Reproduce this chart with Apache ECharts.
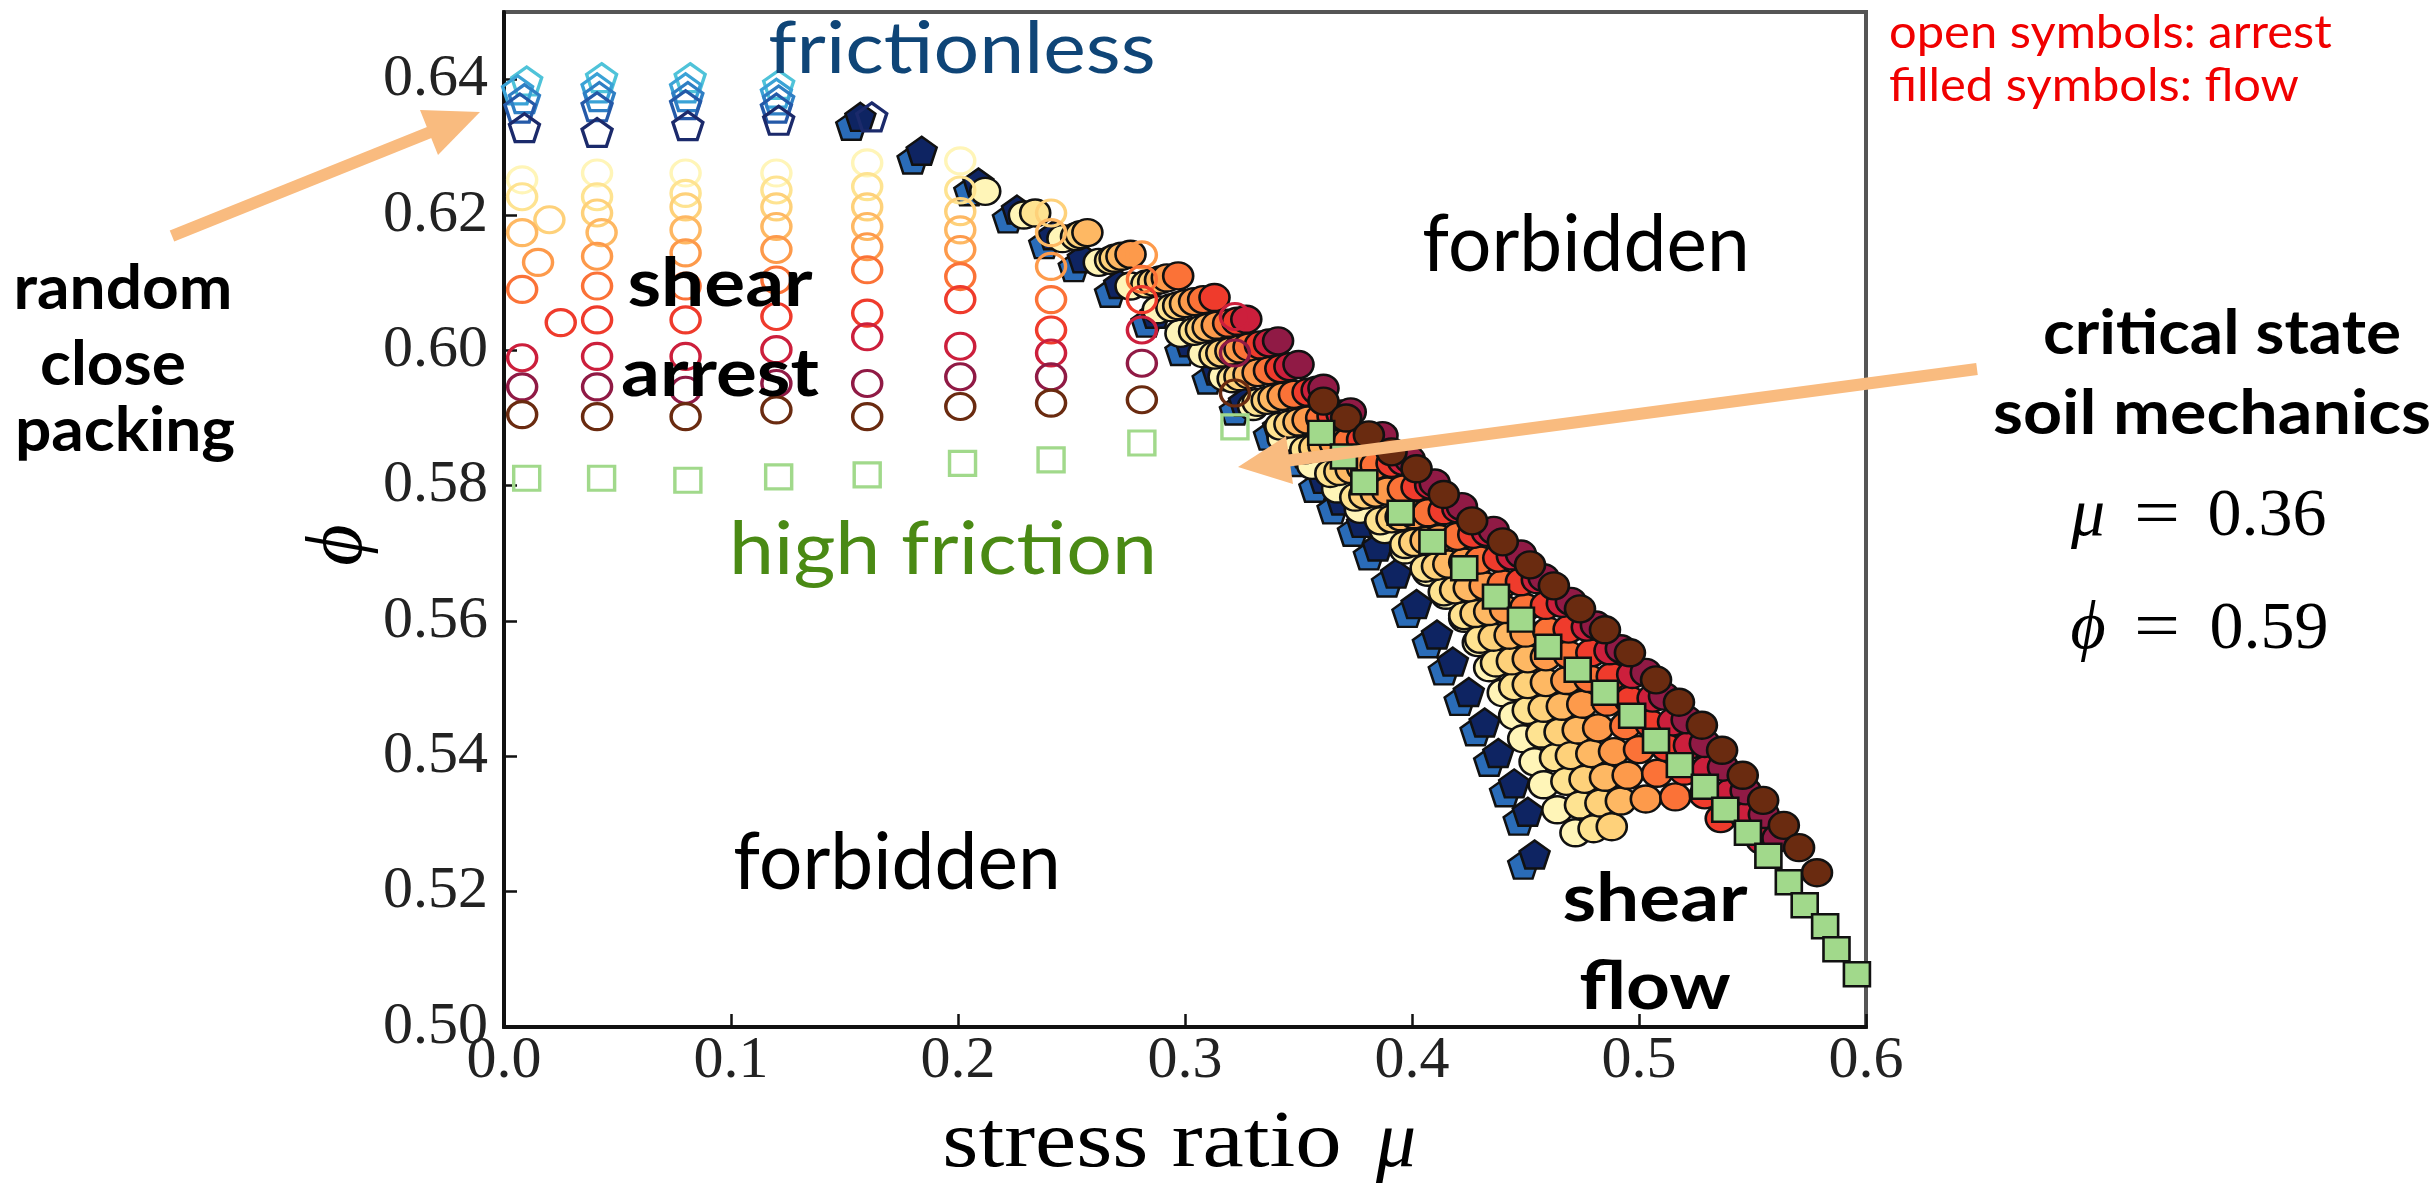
<!DOCTYPE html>
<html><head><meta charset="utf-8">
<script src="https://cdn.jsdelivr.net/npm/echarts/dist/echarts.min.js"></script>
<style>html,body{margin:0;padding:0;background:#fff}#c{width:2432px;height:1189px}</style>
</head><body><div id="c"></div>
<script>
// ---------------- DATA ----------------
const xTicks = [0.0, 0.1, 0.2, 0.3, 0.4, 0.5, 0.6];
const yTicks = [0.50, 0.52, 0.54, 0.56, 0.58, 0.60, 0.62, 0.64];

const circleColors = ['#fff5b8','#fee391','#fed17a','#feb863','#fd9a4b','#fb7237','#ef3b2c','#cc1f3c','#901a45','#6a2b10'];
const pentColors = ['#4fc3d9','#3aa2d6','#2f7fc4','#2459a8','#1b2a6b'];
const pentFlowNavyColor = '#0e2462';
const pentFlowBlueColor = '#2a6cb8';
const squareColor = '#a1d98b';

// filled symbols : flow
const flowPentBlue = [[0.153,0.6332],[0.180,0.6282],[0.205,0.6235],[0.222,0.6195],[0.238,0.6157],[0.251,0.6123],[0.267,0.6085],[0.283,0.6041],[0.298,0.5999],[0.310,0.5957],[0.322,0.5911],[0.337,0.5874],[0.349,0.5835],[0.357,0.5797],[0.365,0.5765],[0.374,0.5732],[0.381,0.5697],[0.389,0.5657],[0.398,0.5612],[0.407,0.5567],[0.414,0.5527],[0.421,0.5482],[0.428,0.5437],[0.434,0.5392],[0.441,0.5347],[0.447,0.5305],[0.449,0.5240]];
const flowPentNavy = [[0.157,0.6345],[0.184,0.6295],[0.209,0.6248],[0.226,0.6208],[0.242,0.6170],[0.255,0.6136],[0.271,0.6098],[0.287,0.6054],[0.302,0.6012],[0.314,0.5970],[0.326,0.5924],[0.341,0.5887],[0.353,0.5848],[0.361,0.5810],[0.369,0.5778],[0.378,0.5745],[0.385,0.5710],[0.393,0.5670],[0.402,0.5625],[0.411,0.5580],[0.418,0.5540],[0.425,0.5495],[0.432,0.5450],[0.438,0.5405],[0.445,0.5360],[0.451,0.5318],[0.454,0.5255]];

const flowC1 = [[0.212,0.6235],[0.229,0.6200],[0.246,0.6165],[0.262,0.6130],[0.276,0.6095],[0.288,0.6060],[0.298,0.6025],[0.308,0.5995],[0.317,0.5961],[0.330,0.5917],[0.343,0.5870],[0.356,0.5830],[0.367,0.5795],[0.377,0.5765],[0.388,0.5735],[0.397,0.5705],[0.407,0.5672],[0.415,0.5638],[0.423,0.5604],[0.429,0.5568],[0.434,0.5531],[0.440,0.5494],[0.445,0.5460],[0.449,0.5426],[0.454,0.5392],[0.458,0.5358],[0.464,0.5321],[0.472,0.5287]];
const flowC2 = [[0.234,0.6203],[0.252,0.6168],[0.267,0.6133],[0.283,0.6098],[0.294,0.6063],[0.304,0.6028],[0.313,0.5993],[0.321,0.5958],[0.332,0.5923],[0.342,0.5888],[0.353,0.5853],[0.364,0.5818],[0.375,0.5783],[0.386,0.5748],[0.397,0.5713],[0.406,0.5678],[0.414,0.5643],[0.423,0.5608],[0.430,0.5573],[0.437,0.5538],[0.445,0.5503],[0.451,0.5468],[0.457,0.5433],[0.463,0.5398],[0.468,0.5363],[0.474,0.5328],[0.480,0.5293]];
const flowC3 = [[0.254,0.6171],[0.269,0.6136],[0.286,0.6101],[0.297,0.6066],[0.307,0.6031],[0.316,0.5996],[0.324,0.5961],[0.336,0.5926],[0.346,0.5891],[0.357,0.5856],[0.368,0.5821],[0.379,0.5786],[0.391,0.5751],[0.401,0.5716],[0.411,0.5681],[0.419,0.5646],[0.428,0.5611],[0.436,0.5576],[0.444,0.5541],[0.451,0.5506],[0.458,0.5471],[0.465,0.5436],[0.470,0.5401],[0.476,0.5366],[0.483,0.5331],[0.488,0.5296]];
const flowC4 = [[0.257,0.6174],[0.272,0.6139],[0.289,0.6104],[0.300,0.6069],[0.310,0.6034],[0.320,0.5999],[0.328,0.5964],[0.339,0.5929],[0.350,0.5894],[0.361,0.5859],[0.373,0.5824],[0.384,0.5789],[0.395,0.5754],[0.406,0.5719],[0.416,0.5684],[0.425,0.5649],[0.434,0.5614],[0.443,0.5579],[0.451,0.5544],[0.459,0.5509],[0.466,0.5474],[0.473,0.5439],[0.479,0.5404],[0.485,0.5369],[0.492,0.5334]];
const flowC5 = [[0.276,0.6142],[0.292,0.6107],[0.304,0.6072],[0.314,0.6037],[0.324,0.6002],[0.332,0.5967],[0.343,0.5932],[0.354,0.5897],[0.366,0.5862],[0.378,0.5827],[0.389,0.5792],[0.401,0.5757],[0.412,0.5722],[0.423,0.5687],[0.432,0.5652],[0.441,0.5617],[0.450,0.5582],[0.459,0.5547],[0.468,0.5512],[0.475,0.5477],[0.482,0.5442],[0.489,0.5407],[0.495,0.5372],[0.503,0.5337]];
const flowC6 = [[0.297,0.6110],[0.308,0.6075],[0.319,0.6040],[0.328,0.6005],[0.337,0.5970],[0.348,0.5935],[0.360,0.5900],[0.372,0.5865],[0.384,0.5830],[0.396,0.5795],[0.407,0.5760],[0.420,0.5725],[0.430,0.5690],[0.440,0.5655],[0.450,0.5620],[0.460,0.5585],[0.469,0.5550],[0.478,0.5515],[0.486,0.5480],[0.494,0.5445],[0.500,0.5410],[0.508,0.5375],[0.516,0.5340]];
const flowC7 = [[0.313,0.6078],[0.323,0.6043],[0.333,0.6008],[0.342,0.5973],[0.354,0.5938],[0.365,0.5903],[0.378,0.5868],[0.391,0.5833],[0.402,0.5798],[0.414,0.5763],[0.427,0.5728],[0.438,0.5693],[0.448,0.5658],[0.459,0.5623],[0.469,0.5588],[0.479,0.5553],[0.488,0.5518],[0.496,0.5483],[0.505,0.5448],[0.512,0.5413],[0.520,0.5378],[0.529,0.5343],[0.536,0.5308]];
const flowC8 = [[0.327,0.6046],[0.337,0.6011],[0.346,0.5976],[0.358,0.5941],[0.369,0.5906],[0.383,0.5871],[0.396,0.5836],[0.408,0.5801],[0.420,0.5766],[0.433,0.5731],[0.444,0.5696],[0.455,0.5661],[0.466,0.5626],[0.477,0.5591],[0.487,0.5556],[0.497,0.5521],[0.506,0.5486],[0.515,0.5451],[0.522,0.5416],[0.530,0.5381],[0.540,0.5346],[0.547,0.5311],[0.554,0.5276]];
const flowC9 = [[0.341,0.6014],[0.350,0.5979],[0.361,0.5944],[0.373,0.5909],[0.387,0.5874],[0.399,0.5839],[0.410,0.5804],[0.422,0.5769],[0.436,0.5734],[0.448,0.5699],[0.458,0.5664],[0.470,0.5629],[0.481,0.5594],[0.492,0.5559],[0.503,0.5524],[0.511,0.5489],[0.521,0.5454],[0.529,0.5419],[0.537,0.5384],[0.547,0.5349],[0.555,0.5314],[0.561,0.5279]];
const flowC10 = [[0.361,0.5925],[0.371,0.5900],[0.381,0.5875],[0.391,0.5850],[0.402,0.5825],[0.414,0.5787],[0.4265,0.5748],[0.440,0.5717],[0.452,0.5683],[0.4625,0.5652],[0.474,0.5618],[0.485,0.5587],[0.496,0.5553],[0.5075,0.5513],[0.5176,0.5480],[0.5277,0.5446],[0.5366,0.5409],[0.5457,0.5372],[0.5547,0.5335],[0.5638,0.5298],[0.5705,0.5265],[0.5784,0.5228]];
const flowSquare = [[0.360,0.5878],[0.370,0.5843],[0.379,0.5805],[0.395,0.5760],[0.409,0.5717],[0.423,0.5678],[0.437,0.5636],[0.448,0.5602],[0.460,0.5562],[0.473,0.5528],[0.485,0.5494],[0.497,0.5460],[0.5075,0.5423],[0.518,0.5387],[0.529,0.5355],[0.538,0.5321],[0.548,0.5287],[0.557,0.5253],[0.566,0.5214],[0.573,0.5180],[0.582,0.5149],[0.587,0.5115],[0.596,0.5078]];

// open symbols : arrest
const arrestC1 = [[0.008,0.6252],[0.041,0.6262],[0.080,0.6262],[0.120,0.6262],[0.160,0.6277],[0.201,0.6280]];
const arrestC2 = [[0.008,0.6227],[0.041,0.6227],[0.080,0.6232],[0.120,0.6237],[0.160,0.6242],[0.201,0.6237]];
const arrestC3 = [[0.020,0.6193],[0.041,0.6203],[0.080,0.6212],[0.120,0.6212],[0.160,0.6212],[0.201,0.6205],[0.241,0.6203]];
const arrestC4 = [[0.008,0.6174],[0.043,0.6174],[0.080,0.6178],[0.120,0.6183],[0.160,0.6183],[0.201,0.6178],[0.241,0.6174]];
const arrestC5 = [[0.015,0.6130],[0.041,0.6139],[0.080,0.6144],[0.120,0.6149],[0.160,0.6153],[0.201,0.6149],[0.241,0.6124],[0.281,0.6141]];
const arrestC6 = [[0.008,0.6090],[0.041,0.6095],[0.080,0.6095],[0.120,0.6104],[0.160,0.6119],[0.201,0.6109],[0.241,0.6075],[0.281,0.6105]];
const arrestC7 = [[0.025,0.6041],[0.041,0.6045],[0.080,0.6045],[0.120,0.6050],[0.160,0.6055],[0.201,0.6075],[0.241,0.6030],[0.281,0.6075]];
const arrestC8 = [[0.008,0.5989],[0.041,0.5991],[0.080,0.5991],[0.120,0.6001],[0.160,0.6020],[0.201,0.6006],[0.241,0.5996],[0.281,0.6030],[0.322,0.6050]];
const arrestC9 = [[0.008,0.5946],[0.041,0.5946],[0.080,0.5941],[0.120,0.5951],[0.160,0.5951],[0.201,0.5961],[0.241,0.5961],[0.281,0.5981],[0.322,0.5996]];
const arrestC10 = [[0.008,0.5905],[0.041,0.5902],[0.080,0.5902],[0.120,0.5912],[0.160,0.5902],[0.201,0.5917],[0.241,0.5922],[0.281,0.5927],[0.322,0.5937]];
const arrestSquare = [[0.010,0.5811],[0.043,0.5811],[0.081,0.5808],[0.121,0.5813],[0.160,0.5816],[0.202,0.5833],[0.241,0.5838],[0.281,0.5863],[0.322,0.5887]];
const arrestP1 = [[0.010,0.6398],[0.043,0.6403],[0.082,0.6403],[0.121,0.6393]];
const arrestP2 = [[0.006,0.6385],[0.041,0.6388],[0.080,0.6388],[0.120,0.6380]];
const arrestP3 = [[0.009,0.6372],[0.042,0.6375],[0.081,0.6375],[0.121,0.6370]];
const arrestP4 = [[0.007,0.6358],[0.041,0.6360],[0.080,0.6363],[0.120,0.6358]];
const arrestP5 = [[0.009,0.6329],[0.041,0.6322],[0.081,0.6332],[0.121,0.6340],[0.162,0.6345]];

// ---------------- CHART ----------------
const PENT = 'path://M0,-1L0.951,-0.309L0.588,0.809L-0.588,0.809L-0.951,-0.309Z';
const CIRC = [30, 27], OCIRC = [29, 26], SQ = [26, 24], PSZ = [30, 28];

function filled(data, symbol, size, color) {
  return { type: 'scatter', data, symbol, symbolSize: size, silent: true, animation: false,
    emphasis: { disabled: true },
    itemStyle: { color, borderColor: '#111', borderWidth: 2.5, opacity: 1 } };
}
function hollow(data, symbol, size, color) {
  return { type: 'scatter', data, symbol, symbolSize: size, silent: true, animation: false,
    emphasis: { disabled: true },
    itemStyle: { color: 'rgba(255,255,255,0)', borderColor: color, borderWidth: 3.3, opacity: 1 } };
}

const flows = [flowC1, flowC2, flowC3, flowC4, flowC5, flowC6, flowC7, flowC8, flowC9, flowC10];
const arrests = [arrestC1, arrestC2, arrestC3, arrestC4, arrestC5, arrestC6, arrestC7, arrestC8, arrestC9, arrestC10];
const arrestPents = [arrestP1, arrestP2, arrestP3, arrestP4, arrestP5];

const series = [];
series.push(filled(flowPentBlue, PENT, PSZ, pentFlowBlueColor));
series.push(filled(flowPentNavy, PENT, PSZ, pentFlowNavyColor));
flows.forEach((d, i) => series.push(filled(d, 'circle', CIRC, circleColors[i])));
series.push(filled(flowSquare, 'rect', SQ, squareColor));
series.push(hollow(arrestSquare, 'rect', SQ, squareColor));
arrests.forEach((d, i) => series.push(hollow(d, 'circle', OCIRC, circleColors[i])));
arrestPents.forEach((d, i) => series.push(hollow(d, PENT, PSZ, pentColors[i])));

function txt(text, x, y, font, fill, align, sx, rot) {
  return { type: 'text', x, y, scaleX: sx || 1, scaleY: 1, rotation: rot || 0, z: 100,
    style: { text, font, fill, align: align || 'center', verticalAlign: 'middle',
             textAlign: align || 'center', textVerticalAlign: 'middle' } };
}
const ARROW = '#f9bb7f';
const SERIF = '"Liberation Serif","DejaVu Serif",serif';
const graphic = [
  { type: 'polyline', z: 90, shape: { points: [[172, 236], [433, 131]] }, style: { stroke: ARROW, lineWidth: 12, fill: null } },
  { type: 'polygon', z: 90, shape: { points: [[480, 112], [438, 155], [420, 110]] }, style: { fill: ARROW } },
  { type: 'polyline', z: 90, shape: { points: [[1977, 369], [1285, 461]] }, style: { stroke: ARROW, lineWidth: 12, fill: null } },
  { type: 'polygon', z: 90, shape: { points: [[1238, 467], [1293, 484], [1286, 436]] }, style: { fill: ARROW } },
  txt('frictionless', 962, 50, '72px Lato', '#0f4577', 'center', 1.12),
  txt('forbidden', 1586, 246, '79px Lato', '#000', 'center', 0.97),
  txt('forbidden', 897, 864, '79px Lato', '#000', 'center', 0.97),
  txt('high friction', 943, 550, '74px Lato', '#4a8a14', 'center', 1.09),
  txt('shear', 720, 285, 'bold 66px Lato', '#000', 'center', 1.16),
  txt('arrest', 720, 375, 'bold 66px Lato', '#000', 'center', 1.16),
  txt('shear', 1655, 900, 'bold 66px Lato', '#000', 'center', 1.16),
  txt('flow', 1655, 988, 'bold 66px Lato', '#000', 'center', 1.16),
  txt('random', 123, 289, 'bold 61px Lato', '#000', 'center', 1.05),
  txt('close', 113, 365, 'bold 61px Lato', '#000', 'center', 1.05),
  txt('packing', 125, 431, 'bold 61px Lato', '#000', 'center', 1.05),
  txt('critical state', 2222, 334, 'bold 62px Lato', '#000', 'center', 1.06),
  txt('soil mechanics', 2212, 414, 'bold 62px Lato', '#000', 'center', 1.1),
  txt('open symbols: arrest', 1889, 33, '47px Lato', '#f00000', 'left', 1.04),
  txt('filled symbols: flow', 1889, 86, '47px Lato', '#f00000', 'left', 1.04),
  txt('\u03bc', 2088, 517, 'italic 68px ' + SERIF, '#000', 'center', 1),
  txt('=', 2157, 517, '68px ' + SERIF, '#000', 'center', 1.2),
  txt('0.36', 2267, 517, '68px ' + SERIF, '#000', 'center', 1),
  txt('\u03d5', 2088, 630, 'italic 68px ' + SERIF, '#000', 'center', 1),
  txt('=', 2157, 630, '68px ' + SERIF, '#000', 'center', 1.2),
  txt('0.59', 2269, 630, '68px ' + SERIF, '#000', 'center', 1),
  txt('stress ratio', 1142, 1145, '80px ' + SERIF, '#000', 'center', 1.16),
  txt('\u03bc', 1396, 1145, 'italic 80px ' + SERIF, '#000', 'center', 1),
  txt('\u03d5', 340, 545, 'italic 80px ' + SERIF, '#000', 'center', 1, Math.PI / 2)
];

const chart = echarts.init(document.getElementById('c'), null, { renderer: 'canvas' });
chart.setOption({
  animation: false,
  backgroundColor: '#fff',
  grid: { left: 504, right: 566, top: 12, bottom: 162, show: true, borderColor: '#555', borderWidth: 4,
          containLabel: false, outerBoundsMode: 'none' },
  xAxis: {
    type: 'value', min: xTicks[0], max: xTicks[xTicks.length - 1], interval: 0.1,
    axisLine: { show: true, onZero: false, lineStyle: { color: '#111', width: 4 } },
    axisTick: { show: true, inside: true, length: 13, lineStyle: { color: '#111', width: 2.5 } },
    splitLine: { show: false },
    axisLabel: { show: true, margin: 4, color: '#222', fontSize: 60, fontFamily: SERIF,
                 formatter: v => v.toFixed(1) }
  },
  yAxis: {
    type: 'value', min: yTicks[0], max: 0.65, interval: 0.02,
    axisLine: { show: true, onZero: false, lineStyle: { color: '#111', width: 4 } },
    axisTick: { show: true, inside: true, length: 13, lineStyle: { color: '#111', width: 2.5 } },
    splitLine: { show: false },
    axisLabel: { show: true, margin: 16, color: '#222', fontSize: 60, fontFamily: SERIF,
                 showMaxLabel: false, formatter: v => v.toFixed(2) }
  },
  series,
  graphic
});
</script></body></html>
